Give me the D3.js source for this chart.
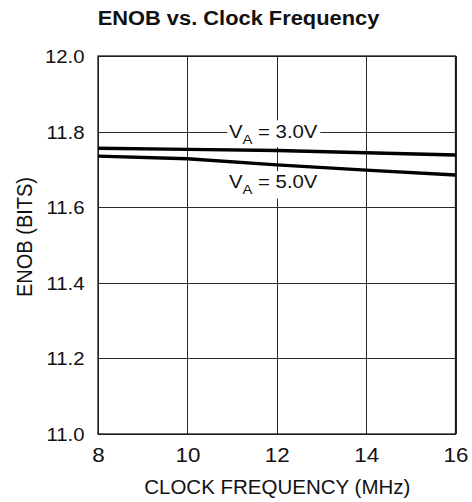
<!DOCTYPE html>
<html><head><meta charset="utf-8">
<script src="https://cdn.jsdelivr.net/npm/d3@7"></script>
<style>
body{margin:0;background:#fff}
svg{display:block}
text{font-family:"Liberation Sans",Arial,Helvetica,sans-serif;fill:#111}
</style>
</head><body><svg id="c" width="472" height="502"></svg>
<script>
// ---- data ----
const freqMHz = [8, 10, 12, 14, 16];
const enob3V  = [11.756, 11.753, 11.750, 11.744, 11.738];
const enob5V  = [11.735, 11.728, 11.712, 11.698, 11.685];
const xTicks  = [8, 10, 12, 14, 16];
const yTicks  = [11.0, 11.2, 11.4, 11.6, 11.8, 12.0];
const labelMain = ["V", "V"];
const labelSub  = ["A", "A"];
const labelRest = [" = 3.0V", " = 5.0V"];
const labelFreq = [10.93, 10.93];
const labelEnob = [11.8, 11.669];
const titleText = "ENOB vs. Clock Frequency";
const xTitle = "CLOCK FREQUENCY (MHz)";
const yTitle = "ENOB (BITS)";

// ---- layout ----
const L = 98, R = 455.5, T = 56, B = 434;
const svg = d3.select("#c");
const x = d3.scaleLinear().domain([8, 16]).range([L, R]);
const y = d3.scaleLinear().domain([11, 12]).range([B, T]);

function stretch(sel, k) {
  sel.each(function () {
    const n = this.getComputedTextLength();
    d3.select(this).attr("textLength", n * k).attr("lengthAdjust", "spacingAndGlyphs");
  });
}

// title
svg.append("text").attr("x", 238.5).attr("y", 25).attr("text-anchor", "middle")
  .style("font-size", "19.5px").style("font-weight", "bold").attr("fill", "#1e1e1e")
  .text(titleText).call(stretch, 1.12);

// y axis with grid
const ya = svg.append("g").attr("transform", `translate(${L},0)`)
  .call(d3.axisLeft(y).tickValues(yTicks).tickFormat(d3.format(".1f")).tickSize(-(R - L)).tickPadding(13.5));
ya.select(".domain").remove();
ya.selectAll(".tick line").attr("stroke", "#2a2a2a").attr("stroke-width", 1).attr("shape-rendering", "crispEdges");
ya.selectAll(".tick text").attr("dy", "0.37em").style("font-size", "17.7px").attr("fill", "#111")
  .call(stretch, 1.15);

// x axis with grid
const xa = svg.append("g").attr("transform", `translate(0,${B})`)
  .call(d3.axisBottom(x).tickValues(xTicks).tickFormat(d3.format("d")).tickSize(-(B - T)).tickPadding(13.4));
xa.select(".domain").remove();
xa.selectAll(".tick line").attr("stroke", "#2a2a2a").attr("stroke-width", 1).attr("shape-rendering", "crispEdges");
xa.selectAll(".tick text").style("font-size", "20.5px").attr("fill", "#111").call(stretch, 1.09);

// frame
svg.append("rect").attr("x", L).attr("y", T).attr("width", R - L).attr("height", B - T)
  .attr("fill", "none").attr("stroke", "#1a1a1a").attr("stroke-width", 1.3);

// axis titles
svg.append("text").attr("x", 277.3).attr("y", 494.3).attr("text-anchor", "middle")
  .style("font-size", "20.5px").text(xTitle).call(stretch, 1.0);
svg.append("g").attr("transform", "translate(31.5,237) scale(1.12,1) rotate(-90)")
  .append("text").attr("text-anchor", "middle").style("font-size", "20px").text(yTitle);

// series lines
const line = d3.line().x((d, i) => x(freqMHz[i])).y(d => y(d));
[enob3V, enob5V].forEach(s => {
  svg.append("path").datum(s).attr("d", line).attr("fill", "none")
    .attr("stroke", "#000").attr("stroke-width", 3.4).attr("stroke-linejoin", "round");
});

// labels with white boxes
labelMain.forEach((m, i) => {
  const cx = x(labelFreq[i]), cy = y(labelEnob[i]);
  const g = svg.append("g").attr("transform", `translate(${cx},${cy + 6.6}) scale(1.1,1)`);
  const t = g.append("text").style("font-size", "18.5px");
  t.append("tspan").text(m);
  t.append("tspan").attr("dy", 5.8).style("font-size", "13.5px").text(labelSub[i]);
  t.append("tspan").attr("dy", -5.8).text(labelRest[i]);
  const bb = t.node().getBBox();
  const top = i === 0 ? -18 : -16.5;
  const h = i === 0 ? 27 : 27.5;
  g.insert("rect", "text").attr("x", bb.x - 1.5).attr("y", top).attr("width", bb.width + 4)
    .attr("height", h).attr("fill", "#fff");
});
</script>
</body></html>
